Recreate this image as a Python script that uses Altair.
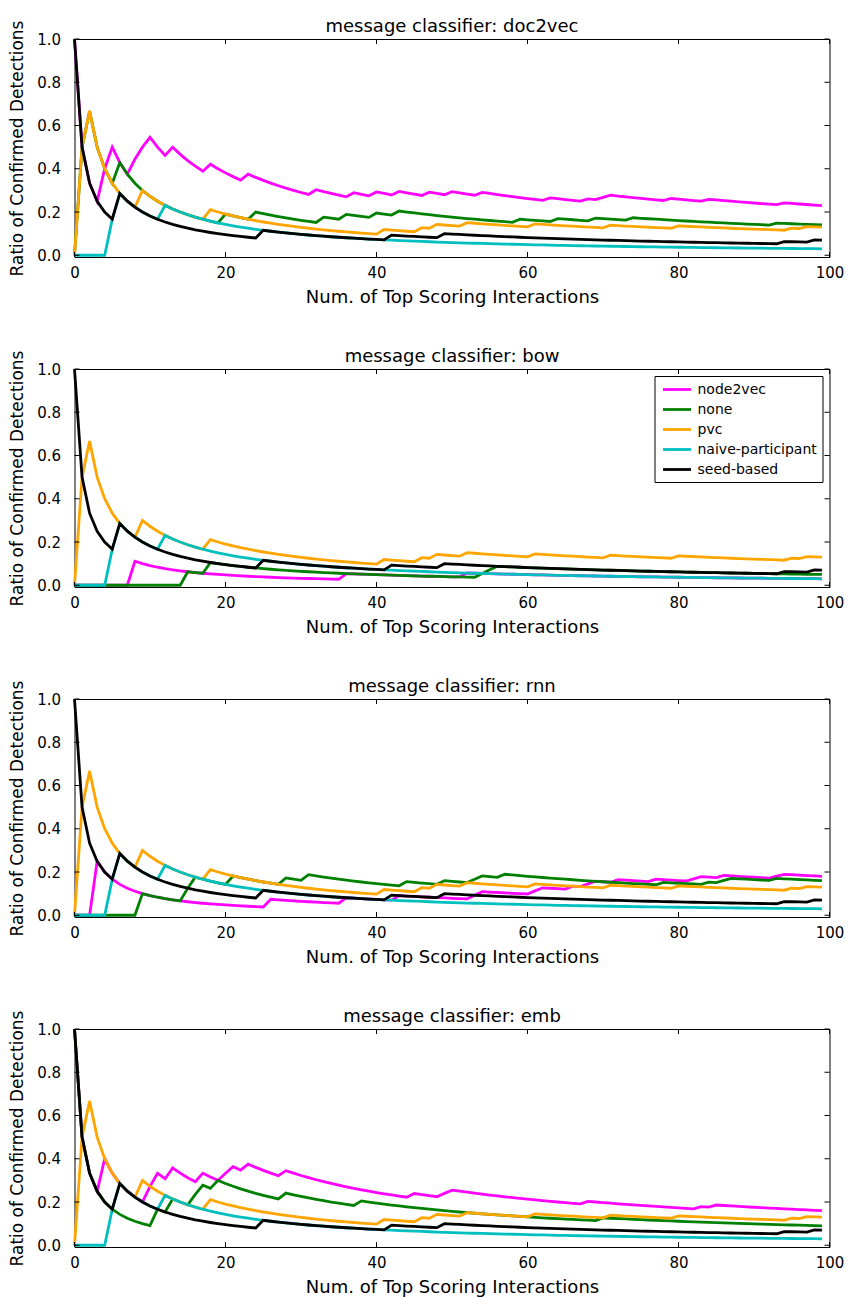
import altair as alt
import pandas as pd

N_RANKS = 100
SERIES = ["node2vec", "none", "pvc", "naive-participant", "seed-based"]
COLORS = ["#ff00ff", "#008000", "#ffa500", "#00bfbf", "#000000"]
CLASSIFIERS = ["doc2vec", "bow", "rnn", "emb"]

# Ranks (0-based) of the top scoring interactions that were confirmed detections.
# The three baselines do not depend on the message classifier.
pvc_hits = [1, 2, 9, 18, 41, 46, 48, 52, 61, 71, 80, 95, 97]
naive_participant_hits = [5, 6, 12]
seed_based_hits = [0, 6, 25, 42, 49, 94, 98]

node2vec_hits = {
    "doc2vec": [0, 4, 5, 8, 9, 10, 13, 18, 23, 32, 37, 40, 43, 47, 50, 54, 63,
                68, 70, 71, 79, 84, 94],
    "bow": [8, 36, 52],
    "rnn": [3, 26, 36, 43, 53, 54, 61, 62, 66, 68, 69, 72, 77, 82, 83, 86, 93, 94],
    "emb": [0, 4, 10, 11, 13, 17, 20, 21, 23, 28, 45, 49, 50, 68, 83, 85],
}
none_hits = {
    "doc2vec": [1, 2, 6, 20, 24, 33, 36, 40, 43, 59, 64, 69, 74, 93],
    "bow": [15, 18, 54, 55, 56],
    "rnn": [9, 15, 16, 21, 28, 31, 44, 49, 53, 54, 57, 78, 84, 86, 87, 93],
    "emb": [0, 11, 13, 16, 17, 19, 28, 38, 70],
}

X_TICKS = [0, 20, 40, 60, 80, 100]
Y_TICKS = [0.0, 0.2, 0.4, 0.6, 0.8, 1.0]

W, H = 755, 218
PANEL_GAP = 112
FONT = "DejaVu Sans"
LINE_W = 2.8
# short horizontal stroke used as the legend swatch
LEGEND_SWATCH = "M-0.714,0H3.286"


def ratio_curve(hits):
    """Share of confirmed detections among the top k+1 interactions."""
    hit_set = set(hits)
    found, out = 0, []
    for k in range(N_RANKS):
        if k in hit_set:
            found += 1
        out.append(found / (k + 1))
    return out


def panel_frame(clf):
    rows = []
    curves = {
        "node2vec": node2vec_hits[clf],
        "none": none_hits[clf],
        "pvc": pvc_hits,
        "naive-participant": naive_participant_hits,
        "seed-based": seed_based_hits,
    }
    for name in SERIES:
        for k, v in enumerate(ratio_curve(curves[name])):
            rows.append({"rank": k, "ratio": v, "series": name})
    return pd.DataFrame(rows)


x_scale = alt.Scale(domain=[0, 100], nice=False, zero=False)
y_scale = alt.Scale(domain=[-0.008, 1.0], nice=False, zero=False)


def panel(clf, show_legend):
    df = panel_frame(clf)
    if show_legend:
        legend = alt.Legend(
            title=None, orient="top-right", offset=7,
            strokeColor="black", fillColor="white", padding=5,
            cornerRadius=0, symbolType=LEGEND_SWATCH, symbolStrokeWidth=LINE_W,
            symbolSize=196, labelFont=FONT, labelFontSize=14,
            labelColor="black", rowPadding=4, labelOffset=21,
        )
    else:
        legend = None
    color = alt.Color(
        "series:N",
        scale=alt.Scale(domain=SERIES, range=COLORS),
        legend=legend,
    )
    x_axis = alt.Axis(
        title="Num. of Top Scoring Interactions", values=X_TICKS, ticks=False,
        domain=False, grid=False, labelFont=FONT, labelFontSize=15,
        labelFlush=False, titleFont=FONT, titleFontSize=18,
        titleFontWeight="normal", labelPadding=8, titlePadding=8,
        labelColor="black", titleColor="black",
    )
    y_axis = alt.Axis(
        title="Ratio of Confirmed Detections", values=Y_TICKS, format=".1f",
        ticks=False, domain=False, grid=False, labelFont=FONT,
        labelFontSize=15, labelFlush=False, titleFont=FONT, titleFontSize=17,
        titleFontWeight="normal", labelPadding=14, titlePadding=10,
        labelColor="black", titleColor="black",
    )

    layers = []
    for name in SERIES:
        layers.append(
            alt.Chart(df)
            .transform_filter(alt.datum.series == name)
            .mark_line(strokeWidth=LINE_W)
            .encode(
                x=alt.X("rank:Q", scale=x_scale, axis=x_axis),
                y=alt.Y("ratio:Q", scale=y_scale, axis=y_axis),
                color=color,
            )
        )

    xt = pd.DataFrame({"t": X_TICKS})
    yt = pd.DataFrame({"t": Y_TICKS})
    tick = dict(color="black", strokeWidth=1)
    layers += [
        alt.Chart(xt).mark_rule(**tick).encode(
            x=alt.X("t:Q", scale=x_scale), y=alt.value(H), y2=alt.value(H - 5)),
        alt.Chart(xt).mark_rule(**tick).encode(
            x=alt.X("t:Q", scale=x_scale), y=alt.value(0), y2=alt.value(5)),
        alt.Chart(yt).mark_rule(**tick).encode(
            y=alt.Y("t:Q", scale=y_scale), x=alt.value(0), x2=alt.value(5)),
        alt.Chart(yt).mark_rule(**tick).encode(
            y=alt.Y("t:Q", scale=y_scale), x=alt.value(W - 5), x2=alt.value(W)),
    ]

    return alt.layer(*layers).properties(
        width=W, height=H,
        title=alt.TitleParams(
            f"message classifier: {clf}", font=FONT, fontSize=18,
            fontWeight="normal", color="black", offset=0, dy=16,
            anchor="middle",
        ),
    )


chart = (
    alt.vconcat(*[panel(c, c == "bow") for c in CLASSIFIERS],
                spacing=PANEL_GAP, bounds="flush")
    .resolve_scale(color="independent")
    .resolve_legend(color="independent")
    .configure_view(stroke="black", strokeWidth=1)
    .properties(padding={"left": 7.5, "top": 17, "right": 5, "bottom": 0},
                background="white")
)

chart.save("out.html", embed_options={"renderer": "svg", "actions": False})
